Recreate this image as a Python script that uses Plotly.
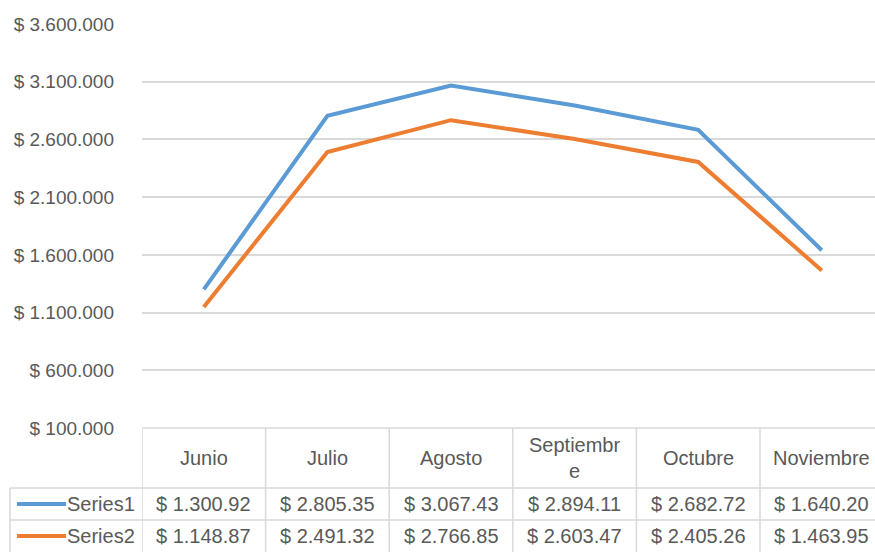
import plotly.graph_objects as go

# ---- data ----
months = ["Junio", "Julio", "Agosto", "Septiembre", "Octubre", "Noviembre"]
series_names = ["Series1", "Series2"]
series1 = [1300920, 2805350, 3067430, 2894110, 2682720, 1640200]
series2 = [1148870, 2491320, 2766850, 2603470, 2405260, 1463950]
y_ticks = [100000, 600000, 1100000, 1600000, 2100000, 2600000, 3100000, 3600000]

colors = ["#5B9BD5", "#ED7D31"]
text_color = "#595959"
grid_color = "#D9D9D9"
FONT = "Liberation Sans"
FS = 20
FS_TICK = 19

W, H = 875, 552
L, T, B = 142, 24, 124
plot_h = H - T - B
plot_w = W - L
col_w = 123.6


def py(p):  # page pixel y -> paper y
    return (H - B - p) / plot_h


def px(p):  # page pixel x -> paper x
    return (p - L) / plot_w


def money(v):
    s = f"{v:,}".replace(",", ".")
    return "$ " + s[:-1]


def tick_label(v):
    return "$ " + f"{v:,}".replace(",", ".")


def wrap(s, n=9):
    return s if len(s) <= n else s[:n] + "<br>" + s[n:]


fig = go.Figure()
for name, vals, c in zip(series_names, [series1, series2], colors):
    fig.add_trace(go.Scatter(
        x=list(range(len(months))), y=vals, mode="lines", name=name,
        line=dict(color=c, width=4), hoverinfo="skip", showlegend=False,
    ))

shapes = []
annotations = []
line_style = dict(color=grid_color, width=1.5)

# horizontal table borders
shapes.append(dict(type="line", xref="paper", yref="paper", x0=0, x1=1.0, y0=py(428), y1=py(428), line=line_style))
for yy in (488, 520):
    shapes.append(dict(type="line", xref="paper", yref="paper", x0=px(10), x1=1.0, y0=py(yy), y1=py(yy), line=line_style))
# vertical borders
shapes.append(dict(type="line", xref="paper", yref="paper", x0=px(10), x1=px(10), y0=py(488), y1=py(552), line=line_style))
for i in range(len(months)):
    shapes.append(dict(type="line", xref="x", yref="paper", x0=i - 0.5, x1=i - 0.5, y0=py(428), y1=py(552), line=line_style))

# header texts
for i, m in enumerate(months):
    annotations.append(dict(x=i, y=py(458), xref="x", yref="paper", text=wrap(m), showarrow=False,
                            font=dict(family=FONT, size=FS, color=text_color), xanchor="center", yanchor="middle"))
# value rows
for r, (name, vals, c) in enumerate(zip(series_names, [series1, series2], colors)):
    yc = 504 + 32 * r
    for i, v in enumerate(vals):
        annotations.append(dict(x=i, y=py(yc), xref="x", yref="paper", text=money(v), showarrow=False,
                                font=dict(family=FONT, size=FS, color=text_color), xanchor="center", yanchor="middle"))
    shapes.append(dict(type="line", xref="paper", yref="paper", x0=px(17), x1=px(66), y0=py(yc), y1=py(yc),
                       line=dict(color=c, width=4)))
    annotations.append(dict(x=px(137), y=py(yc), xref="paper", yref="paper", text=name, showarrow=False,
                            font=dict(family=FONT, size=FS, color=text_color), xanchor="right", yanchor="middle"))

fig.update_layout(
    width=W, height=H,
    margin=dict(l=L, r=0, t=T, b=B, pad=0),
    paper_bgcolor="white", plot_bgcolor="white",
    shapes=shapes, annotations=annotations,
    xaxis=dict(range=[-0.5, -0.5 + plot_w / col_w], showticklabels=False, showgrid=False,
               zeroline=False, showline=False, ticks=""),
    yaxis=dict(range=[100000, 3600000], tickmode="array", tickvals=y_ticks,
               ticktext=[tick_label(v) for v in y_ticks],
               showgrid=True, gridcolor=grid_color, gridwidth=1.5, zeroline=False, showline=False,
               ticks="", ticklabelstandoff=27,
               tickfont=dict(family=FONT, size=FS_TICK, color=text_color)),
    font=dict(family=FONT, size=FS, color=text_color),
)

fig.write_html("out.html", config={"displayModeBar": False},
               post_script="document.body.style.margin='0';document.body.style.overflow='hidden';")
